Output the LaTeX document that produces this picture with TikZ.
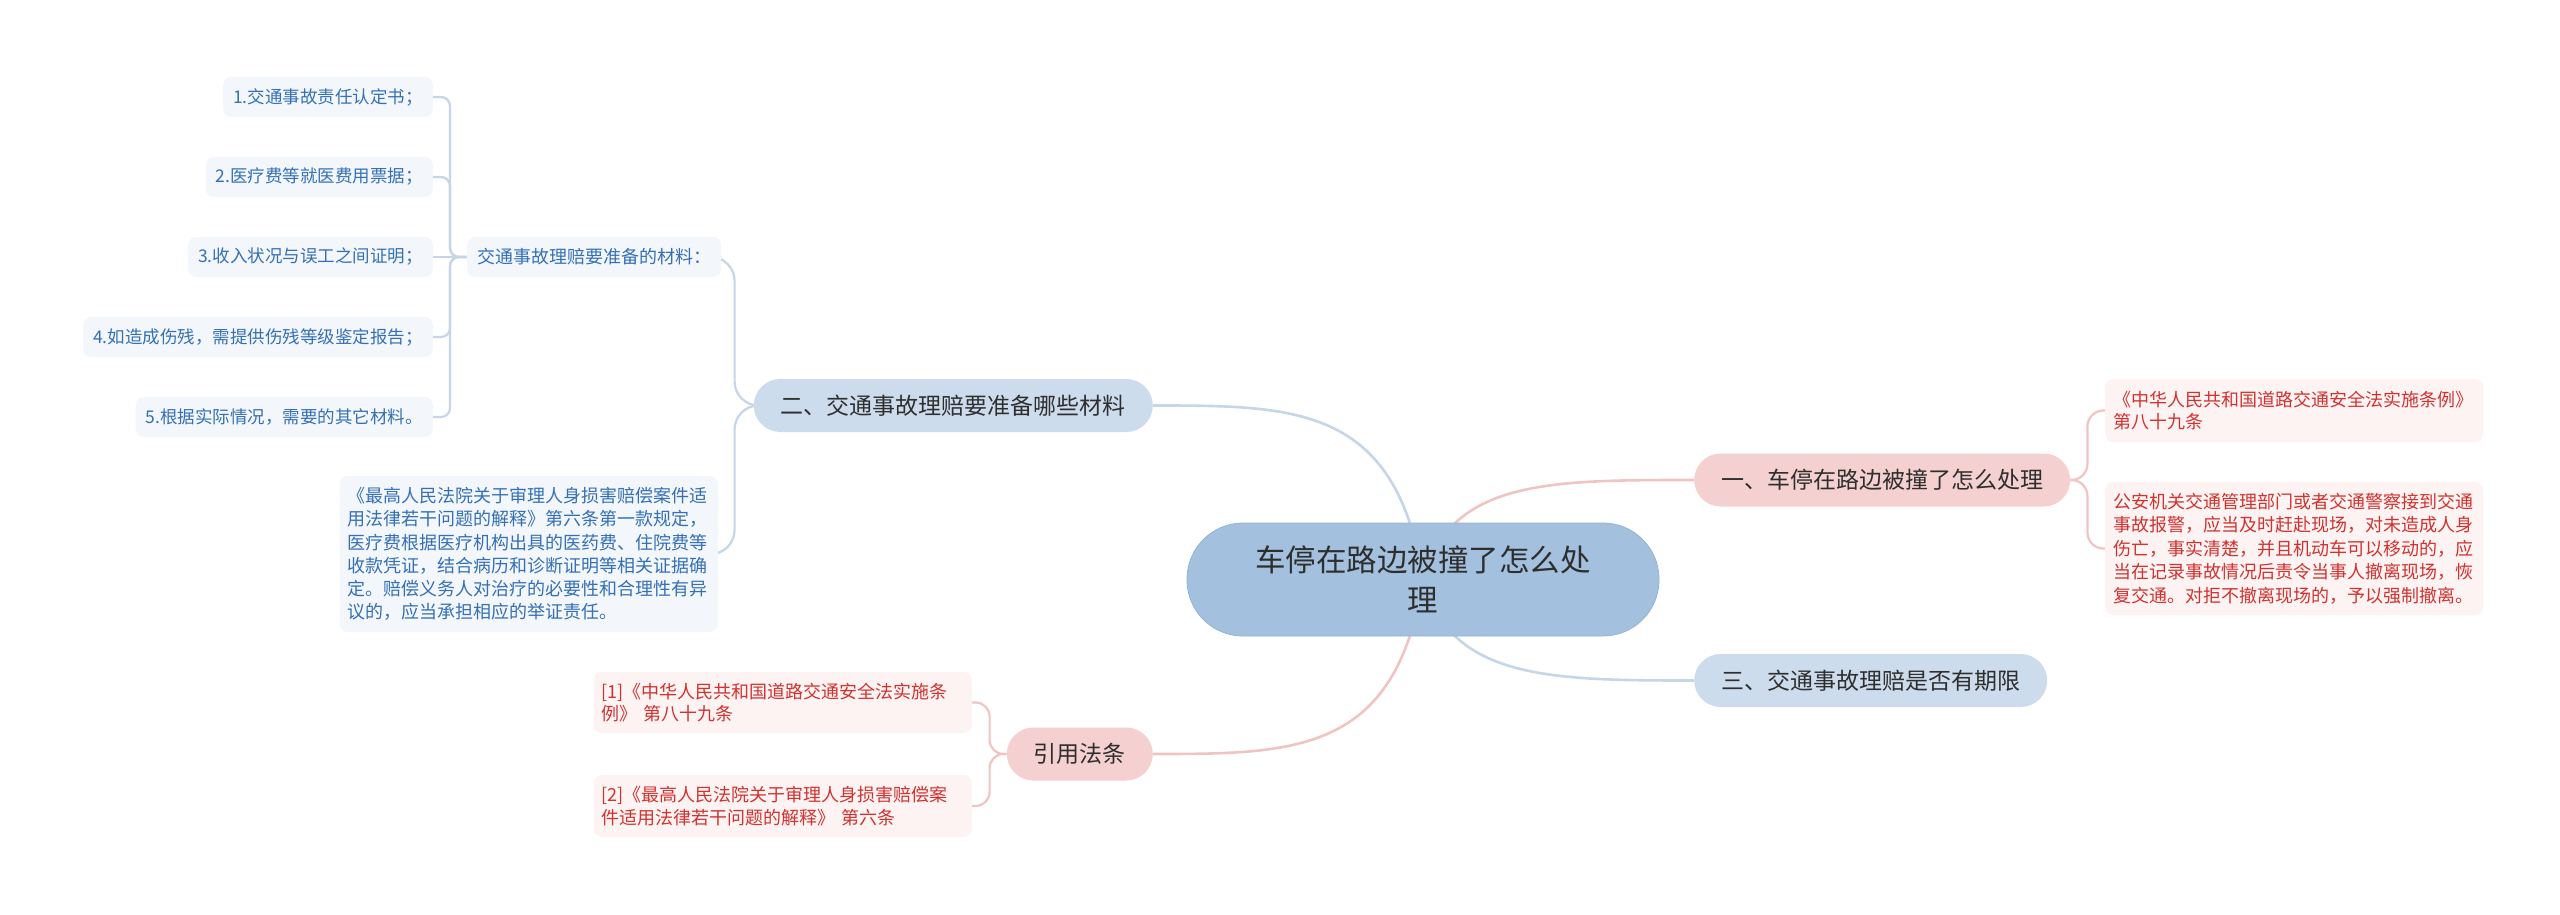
\documentclass[tikz,border=0pt]{standalone}
\usepackage{fontspec}
\setmainfont{Noto Sans CJK SC}
\usetikzlibrary{backgrounds}
\definecolor{rootfill}{HTML}{A3C1DE}
\definecolor{rootdraw}{HTML}{93B3D4}
\definecolor{lonblue}{HTML}{CDDCEC}
\definecolor{lonpink}{HTML}{F5D0D0}
\definecolor{leafblue}{HTML}{F3F7FC}
\definecolor{leafred}{HTML}{FDF3F3}
\definecolor{tblue}{HTML}{3570B5}
\definecolor{tred}{HTML}{CF3330}
\definecolor{tdark}{HTML}{2E2E2E}
\definecolor{lblue}{HTML}{C6D6E8}
\definecolor{lpink}{HTML}{F1C4C4}
\tikzset{
  rootnode/.style={fill=rootfill, draw=rootdraw, line width=0.8pt, rounded corners=56pt,
    minimum width=472pt, minimum height=113pt, align=center, text=tdark,
    font=\fontsize{30.5}{40}\selectfont},
  lvone/.style={rounded corners=26.5pt, minimum height=53pt, inner xsep=27pt, inner ysep=0pt,
    font=\fontsize{23}{28}\selectfont, text=tdark},
  bluelv/.style={lvone, fill=lonblue},
  pinklv/.style={lvone, fill=lonpink},
  bitem/.style={rounded corners=8pt, fill=leafblue, text=tblue, inner xsep=10pt, inner ysep=0pt,
    minimum height=40pt, font=\fontsize{17.5}{23}\selectfont},
  bbox/.style={rounded corners=8pt, fill=leafblue, text=tblue, inner xsep=8pt, inner ysep=0pt,
    text width=362pt, align=left, font=\fontsize{18}{23.3}\selectfont},
  rbox/.style={rounded corners=8pt, fill=leafred, text=tred, inner xsep=8pt, inner ysep=0pt,
    text width=362pt, align=left, font=\fontsize{18}{22.5}\selectfont},
  bline/.style={draw=lblue, line width=2.6pt},
  pline/.style={draw=lpink, line width=2.6pt},
  bsub/.style={draw=lblue, line width=2.2pt},
  psub/.style={draw=lpink, line width=2.2pt},
}
\begin{document}
\begin{tikzpicture}[x=1pt,y=-1pt]
\useasboundingbox (0,0) rectangle (2560,915);

% root
\node[rootnode] (root) at (1423,579.5) {车停在路边被撞了怎么处\\理};

% level one
\node[pinklv, anchor=west] (n1) at (1694,480) {一、车停在路边被撞了怎么处理};
\node[bluelv, anchor=west] (n3) at (1694,680.5) {三、交通事故理赔是否有期限};
\node[bluelv, anchor=east] (n2) at (1153,405.5) {二、交通事故理赔要准备哪些材料};
\node[pinklv, anchor=east] (n4) at (1153,754) {引用法条};

% right leaves
\node[rbox, anchor=west, minimum height=63pt] (r1) at (2105,410.5)
  {《中华人民共和国道路交通安全法实施条例》\\第八十九条};
\node[rbox, anchor=west, minimum height=133pt, font=\fontsize{18}{23.5}\selectfont] (r2) at (2105,548.5)
  {公安机关交通管理部门或者交通警察接到交通\\事故报警，应当及时赶赴现场，对未造成人身\\伤亡，事实清楚，并且机动车可以移动的，应\\当在记录事故情况后责令当事人撤离现场，恢\\复交通。对拒不撤离现场的，予以强制撤离。};

% citations
\node[rbox, anchor=east, minimum height=61pt] (c1) at (972,702.5)
  {[1]《中华人民共和国道路交通安全法实施条\\例》 第八十九条};
\node[rbox, anchor=east, minimum height=62pt] (c2) at (972,806)
  {[2]《最高人民法院关于审理人身损害赔偿案\\件适用法律若干问题的解释》 第六条};

% left side
\node[bitem, anchor=west, font=\fontsize{18}{23}\selectfont] (m0) at (467,257) {交通事故理赔要准备的材料：};
\node[bbox, anchor=east, minimum height=156pt] (bb) at (718,554)
  {《最高人民法院关于审理人身损害赔偿案件适\\用法律若干问题的解释》第六条第一款规定，\\医疗费根据医疗机构出具的医药费、住院费等\\收款凭证，结合病历和诊断证明等相关证据确\\定。赔偿义务人对治疗的必要性和合理性有异\\议的，应当承担相应的举证责任。};

\node[bitem, anchor=east] (i1) at (433,97) {1.交通事故责任认定书；};
\node[bitem, anchor=east] (i2) at (433,177) {2.医疗费等就医费用票据；};
\node[bitem, anchor=east] (i3) at (433,257) {3.收入状况与误工之间证明；};
\node[bitem, anchor=east] (i4) at (433,337) {4.如造成伤残，需提供伤残等级鉴定报告；};
\node[bitem, anchor=east] (i5) at (433,417) {5.根据实际情况，需要的其它材料。};

\begin{scope}[on background layer]
  \fill[white] (0,0) rectangle (2560,915);
  \draw[pline] (root.center) .. controls +(27,-100) and +(-144,0) .. (n1.west);
  \draw[bline] (root.center) .. controls +(27,100) and +(-144,0) .. (n3.west);
  \draw[bline] (root.center) .. controls +(-27,-174) and +(143,0) .. (n2.east);
  \draw[pline] (root.center) .. controls +(-27,174) and +(143,0) .. (n4.east);

  \draw[psub, rounded corners=16pt] (n1.east) -- ++(17,0) |- (r1.west);
  \draw[psub, rounded corners=16pt] (n1.east) -- ++(17,0) |- (r2.west);

  \draw[psub, rounded corners=14pt] (n4.west) -- ++(-17,0) |- (c1.east);
  \draw[psub, rounded corners=14pt] (n4.west) -- ++(-17,0) |- (c2.east);

  \draw[bsub, rounded corners=24pt] (n2.west) -- ++(-19,0) |- (m0.east);
  \draw[bsub, rounded corners=24pt] (n2.west) -- ++(-19,0) |- (bb.east);

  \draw[bsub, rounded corners=9pt] (m0.west) -- ++(-17,0) |- (i1.east);
  \draw[bsub, rounded corners=9pt] (m0.west) -- ++(-17,0) |- (i2.east);
  \draw[bsub] (m0.west) -- (i3.east);
  \draw[bsub, rounded corners=9pt] (m0.west) -- ++(-17,0) |- (i4.east);
  \draw[bsub, rounded corners=9pt] (m0.west) -- ++(-17,0) |- (i5.east);
\end{scope}
\end{tikzpicture}
\end{document}
